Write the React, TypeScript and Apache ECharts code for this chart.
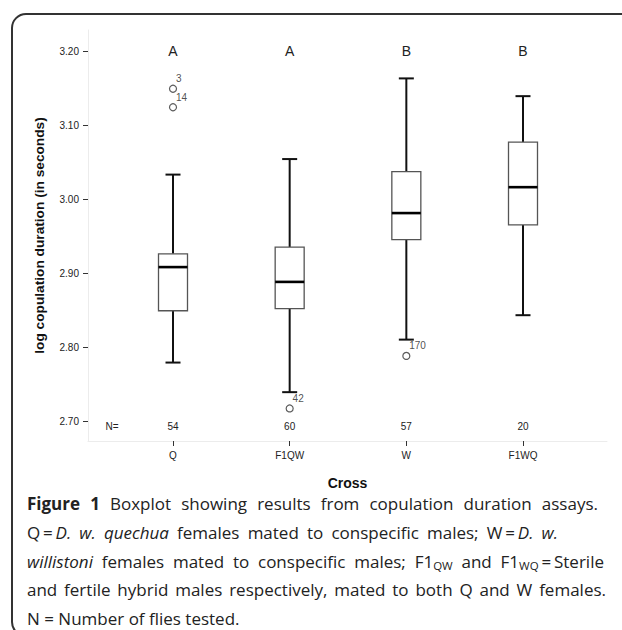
import React, { useEffect, useRef } from 'react';
import * as echarts from 'echarts';

const categories = ['Q', 'F1QW', 'W', 'F1WQ'];
const groupLetters = ['A', 'A', 'B', 'B'];
const sampleSizes = [54, 60, 57, 20];
const whiskerLow = [2.779, 2.739, 2.81, 2.843];
const quartile1 = [2.849, 2.852, 2.945, 2.965];
const medians = [2.908, 2.888, 2.981, 3.016];
const quartile3 = [2.926, 2.935, 3.037, 3.077];
const whiskerHigh = [3.033, 3.054, 3.163, 3.139];
const outlierCategory = [0, 0, 1, 2];
const outlierValues = [3.149, 3.124, 2.717, 2.788];
const outlierIds = ['3', '14', '42', '170'];
const yTicks = [2.7, 2.8, 2.9, 3.0, 3.1, 3.2];
const categoryTicks = [0, 1, 2, 3];

type Seg = [string, string];
const captionLines: Seg[][] = [
  [['b', 'Figure 1'], ['n', ' Boxplot showing results from copulation duration assays.']],
  [['n', 'Q\u2009=\u2009'], ['i', 'D. w. quechua'], ['n', ' females mated to conspecific males; W\u2009=\u2009'], ['i', 'D. w.']],
  [['i', 'willistoni'], ['n', ' females mated to conspecific males; F1'], ['sub', 'QW'], ['n', ' and F1'], ['sub', 'WQ'], ['n', '\u2009=\u2009Sterile']],
  [['n', 'and fertile hybrid males respectively, mated to both Q and W females.']],
  [['n', 'N = Number of flies tested.']],
];
const captionRightEdges = [598, 558, 604, 606, 0];

const SANS = '"Liberation Sans", Arial, sans-serif';
const CAPTION_FAMILY = '"Open Sans"';
const CAPTION_SIZE = 17;
const SUB_SIZE = 11.5;
const CAPTION_LEFT = 27;
const LETTER_ROW = 3.2;
const N_ROW = 2.692;
const N_LABEL_X = -0.523;

function fontOf(style: string) {
  if (style === 'b') return `bold ${CAPTION_SIZE}px ${CAPTION_FAMILY}`;
  if (style === 'i') return `italic ${CAPTION_SIZE}px ${CAPTION_FAMILY}`;
  if (style === 'sub') return `${SUB_SIZE}px ${CAPTION_FAMILY}`;
  return `${CAPTION_SIZE}px ${CAPTION_FAMILY}`;
}

function buildCaptionLine(segs: Seg[], right: number, ctx: CanvasRenderingContext2D | null) {
  const tokens: { space: boolean; style: string; text: string }[] = [];
  segs.forEach(([style, text]) => {
    const parts = text.split(' ');
    parts.forEach((p, idx) => {
      if (idx > 0) tokens.push({ space: true, style: 'n', text: ' ' });
      if (p.length) tokens.push({ space: false, style, text: p });
    });
  });
  let spaceW = CAPTION_SIZE * 0.26;
  let wordsW = 0;
  let nSpaces = 0;
  if (ctx) {
    ctx.font = fontOf('n');
    spaceW = ctx.measureText(' ').width;
  }
  tokens.forEach((t) => {
    if (t.space) {
      nSpaces++;
    } else if (ctx) {
      ctx.font = fontOf(t.style);
      wordsW += ctx.measureText(t.text).width;
    }
  });
  let spW = spaceW;
  if (ctx && right > 0 && nSpaces > 0) {
    spW = (right - CAPTION_LEFT - wordsW) / nSpaces;
    if (spW < 1) spW = 1;
  }
  const text = tokens.map((t) => (t.space ? '{sp|\u00a0}' : `{${t.style}|${t.text}}`)).join('');
  return { text, spW };
}

export default function App() {
  const ref = useRef<HTMLDivElement>(null);
  useEffect(() => {
    document.body.style.margin = '0';
    if (!ref.current) return;
    const chart = echarts.init(ref.current, undefined, { renderer: 'svg' });

    const boxData = categories.map((_, i) => [
      i,
      whiskerLow[i],
      quartile1[i],
      medians[i],
      quartile3[i],
      whiskerHigh[i],
    ]);
    const outlierData = outlierValues.map((v, k) => [outlierCategory[k], v, outlierIds[k]]);
    const textData: any[] = [
      ...categories.map((_, i) => [i, LETTER_ROW, groupLetters[i], 14]),
      [N_LABEL_X, N_ROW, 'N=', 10],
      ...categories.map((_, i) => [i, N_ROW, String(sampleSizes[i]), 10]),
    ];

    const canvas = document.createElement('canvas');
    const ctx = canvas.getContext('2d');

    const lineStyle = { stroke: '#111', lineWidth: 2 };
    const baseRich = (spW: number) => ({
      n: { fontFamily: CAPTION_FAMILY, fontSize: CAPTION_SIZE, fill: '#222', lineHeight: 28 },
      b: { fontFamily: CAPTION_FAMILY, fontSize: CAPTION_SIZE, fontWeight: 'bold', fill: '#222', lineHeight: 28 },
      i: { fontFamily: CAPTION_FAMILY, fontSize: CAPTION_SIZE, fontStyle: 'italic', fill: '#222', lineHeight: 28 },
      sub: { fontFamily: CAPTION_FAMILY, fontSize: SUB_SIZE, fill: '#222', lineHeight: 28, padding: [9, 0, 0, 0] },
      sp: { fontFamily: CAPTION_FAMILY, fontSize: CAPTION_SIZE, fill: '#222', lineHeight: 28, width: spW },
    });

    chart.setOption({
      animation: false,
      backgroundColor: '#fff',
      grid: { left: 88, right: 15, top: 30, bottom: 189, outerBoundsMode: 'none' },
      xAxis: {
        type: 'value',
        min: -0.7286,
        max: 3.72,
        name: 'Cross',
        nameLocation: 'middle',
        nameGap: 35,
        nameTextStyle: { fontFamily: SANS, fontSize: 14, fontWeight: 'bold', color: '#111' },
        axisLine: { show: true, onZero: false, lineStyle: { color: '#ececec', width: 1 } },
        axisTick: { show: true, customValues: categoryTicks, length: 5, lineStyle: { color: '#333', width: 1 } },
        axisLabel: {
          customValues: categoryTicks,
          formatter: (v: number) => categories[Math.round(v)] ?? '',
          fontFamily: SANS,
          fontSize: 10,
          color: '#222',
          margin: 9,
        },
        splitLine: { show: false },
      },
      yAxis: {
        type: 'value',
        min: 2.673,
        max: 3.2284,
        name: 'log copulation duration (in seconds)',
        nameLocation: 'middle',
        nameGap: 42,
        nameRotate: 90,
        nameTextStyle: { fontFamily: SANS, fontSize: 13.7, fontWeight: 'bold', color: '#111' },
        axisLine: { show: true, onZero: false, lineStyle: { color: '#ececec', width: 1 } },
        axisTick: { show: true, customValues: yTicks, length: 5, lineStyle: { color: '#333', width: 1 } },
        axisLabel: {
          customValues: yTicks,
          formatter: (v: number) => v.toFixed(2),
          fontFamily: SANS,
          fontSize: 10,
          color: '#222',
          margin: 9,
        },
        splitLine: { show: false },
      },
      series: [
        {
          type: 'custom',
          name: 'box',
          data: boxData,
          encode: { x: 0, y: [1, 2, 3, 4, 5] },
          renderItem: (params: any, api: any) => {
            const x = api.value(0);
            const lo = api.coord([x, api.value(1)]);
            const q1 = api.coord([x, api.value(2)]);
            const md = api.coord([x, api.value(3)]);
            const q3 = api.coord([x, api.value(4)]);
            const hi = api.coord([x, api.value(5)]);
            const cx = lo[0];
            const bw = 29;
            const cw = 15;
            return {
              type: 'group',
              children: [
                { type: 'line', shape: { x1: cx, y1: q3[1], x2: cx, y2: hi[1] }, style: lineStyle },
                { type: 'line', shape: { x1: cx, y1: q1[1], x2: cx, y2: lo[1] }, style: lineStyle },
                { type: 'line', shape: { x1: cx - cw / 2, y1: hi[1], x2: cx + cw / 2, y2: hi[1] }, style: lineStyle },
                { type: 'line', shape: { x1: cx - cw / 2, y1: lo[1], x2: cx + cw / 2, y2: lo[1] }, style: lineStyle },
                {
                  type: 'rect',
                  shape: { x: cx - bw / 2, y: q3[1], width: bw, height: q1[1] - q3[1] },
                  style: { fill: '#fff', stroke: '#555', lineWidth: 1.3 },
                },
                {
                  type: 'line',
                  shape: { x1: cx - bw / 2, y1: md[1], x2: cx + bw / 2, y2: md[1] },
                  style: { stroke: '#000', lineWidth: 2.6 },
                },
              ],
            };
          },
        },
        {
          type: 'scatter',
          name: 'outliers',
          data: outlierData,
          symbol: 'circle',
          symbolSize: 7,
          itemStyle: { color: '#fff', borderColor: '#333', borderWidth: 1.2 },
          label: {
            show: true,
            formatter: (p: any) => p.value[2],
            position: [7, -11],
            fontFamily: SANS,
            fontSize: 10,
            color: '#222',
          },
        },
        {
          type: 'custom',
          name: 'texts',
          data: textData,
          encode: { x: 0, y: 1 },
          renderItem: (params: any, api: any) => {
            const item = textData[params.dataIndex];
            const p = api.coord([item[0], item[1]]);
            return {
              type: 'text',
              x: p[0],
              y: p[1],
              style: {
                text: item[2],
                fontFamily: SANS,
                fontSize: item[3],
                fill: '#222',
                align: 'center',
                verticalAlign: 'middle',
              },
            };
          },
        },
      ],
      graphic: [
        {
          type: 'rect',
          shape: { x: 12, y: 14, width: 660, height: 622, r: 14 },
          style: { fill: 'none', stroke: '#333', lineWidth: 2 },
          silent: true,
        },
        ...captionLines.map((segs, k) => {
          const built = buildCaptionLine(segs, captionRightEdges[k], ctx);
          return {
            type: 'text',
            x: CAPTION_LEFT,
            y: 503.5 + k * 28.75,
            style: {
              text: built.text,
              fontFamily: CAPTION_FAMILY,
              fontSize: CAPTION_SIZE,
              fill: '#222',
              verticalAlign: 'middle',
              lineHeight: 28,
              rich: baseRich(built.spW),
            },
          };
        }),
      ],
    });
    return () => chart.dispose();
  }, []);
  return <div ref={ref} style={{ width: 622, height: 630, position: 'absolute', left: 0, top: 0 }} />;
}
